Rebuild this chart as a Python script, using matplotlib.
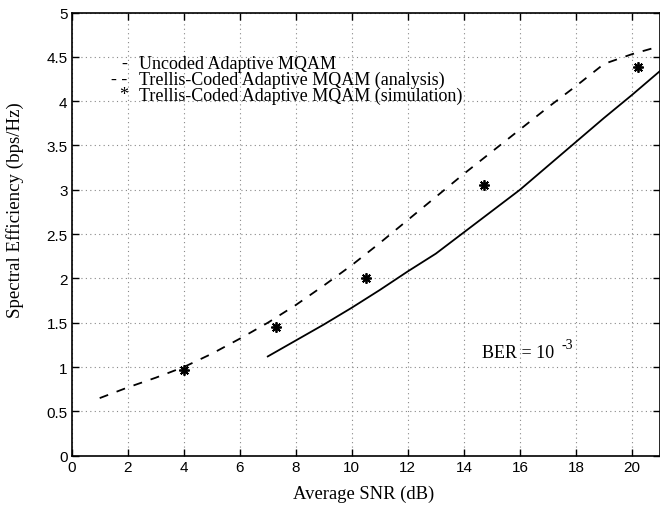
import matplotlib
matplotlib.use('Agg')
import matplotlib.pyplot as plt

# uncoded adaptive MQAM (solid)
snr_uncoded = [7, 8, 9, 10, 11, 12, 13, 14, 15, 16, 17, 18, 19, 20, 21]
se_uncoded = [1.12, 1.30, 1.48, 1.67, 1.87, 2.08, 2.28, 2.52, 2.76, 3.00,
              3.27, 3.54, 3.81, 4.07, 4.34]

# trellis-coded, analysis (dashed)
snr_analysis = [1, 2, 3, 4, 5, 6, 7, 8, 9, 10, 11, 12, 13, 14, 15, 16, 17,
                18, 19, 20, 21]
se_analysis = [0.65, 0.77, 0.88, 1.00, 1.15, 1.32, 1.50, 1.70, 1.92, 2.15,
               2.40, 2.66, 2.92, 3.18, 3.43, 3.68, 3.93, 4.17, 4.42, 4.53, 4.62]

# trellis-coded, simulation (stars)
snr_sim = [4.0, 7.3, 10.5, 14.7, 20.2]
se_sim = [0.97, 1.45, 2.00, 3.05, 4.38]

legend_labels = ['Uncoded Adaptive MQAM',
                 'Trellis-Coded Adaptive MQAM (analysis)',
                 'Trellis-Coded Adaptive MQAM (simulation)']
legend_marks = ['-', '- -', '*']

serif = 'Liberation Serif'
sans = 'Liberation Sans'

fig = plt.figure(figsize=(6.6, 5.06), dpi=100)
ax = fig.add_axes([0.1086, 0.0974, 0.8914, 0.8759])

ax.plot(snr_uncoded, se_uncoded, color='black', lw=1.3)
ax.plot(snr_analysis, se_analysis, color='black', lw=1.3, linestyle=(0, (5, 5)))
ax.plot(snr_sim, se_sim, linestyle='none', marker=(8, 2, 0), markersize=7.5,
        markeredgewidth=1.3, color='black')

ax.set_xlim(0, 21)
ax.set_ylim(0, 5)
ax.set_xticks(range(0, 21, 2))
ax.set_yticks([0, 0.5, 1, 1.5, 2, 2.5, 3, 3.5, 4, 4.5, 5])
ax.set_yticklabels(['0', '0.5', '1', '1.5', '2', '2.5', '3', '3.5', '4', '4.5', '5'])
ax.grid(True, linestyle=(0, (1, 3)), color='#888888', linewidth=0.8)
ax.tick_params(direction='in', top=True, right=True, length=5, width=1,
               labelsize=11, pad=3)
for lab in ax.get_xticklabels() + ax.get_yticklabels():
    lab.set_family(sans)
for sp in ax.spines.values():
    sp.set_linewidth(1.2)

ax.set_xlabel('Average SNR (dB)', family=serif, fontsize=13.4, va='center')
ax.set_ylabel('Spectral Efficiency (bps/Hz)', family=serif, fontsize=13.6, va='center')
ax.xaxis.set_label_coords(0.496, -0.084)
ax.yaxis.set_label_coords(-0.096, 0.557)

# MATLAB-style legend: text markers then labels
for i, (mk, lab) in enumerate(zip(legend_marks, legend_labels)):
    yy = 4.43 - 0.18 * i
    ax.text(2.0, yy, mk, family=serif, fontsize=13, ha='right', va='center')
    ax.text(2.4, yy, lab, family=serif, fontsize=13, ha='left', va='center')

ax.text(14.65, 1.17, 'BER = 10', family=serif, fontsize=13, ha='left', va='center')
ax.text(17.5, 1.26, '-3', family=serif, fontsize=10, ha='left', va='center')

fig.savefig('out.png', dpi=100)
